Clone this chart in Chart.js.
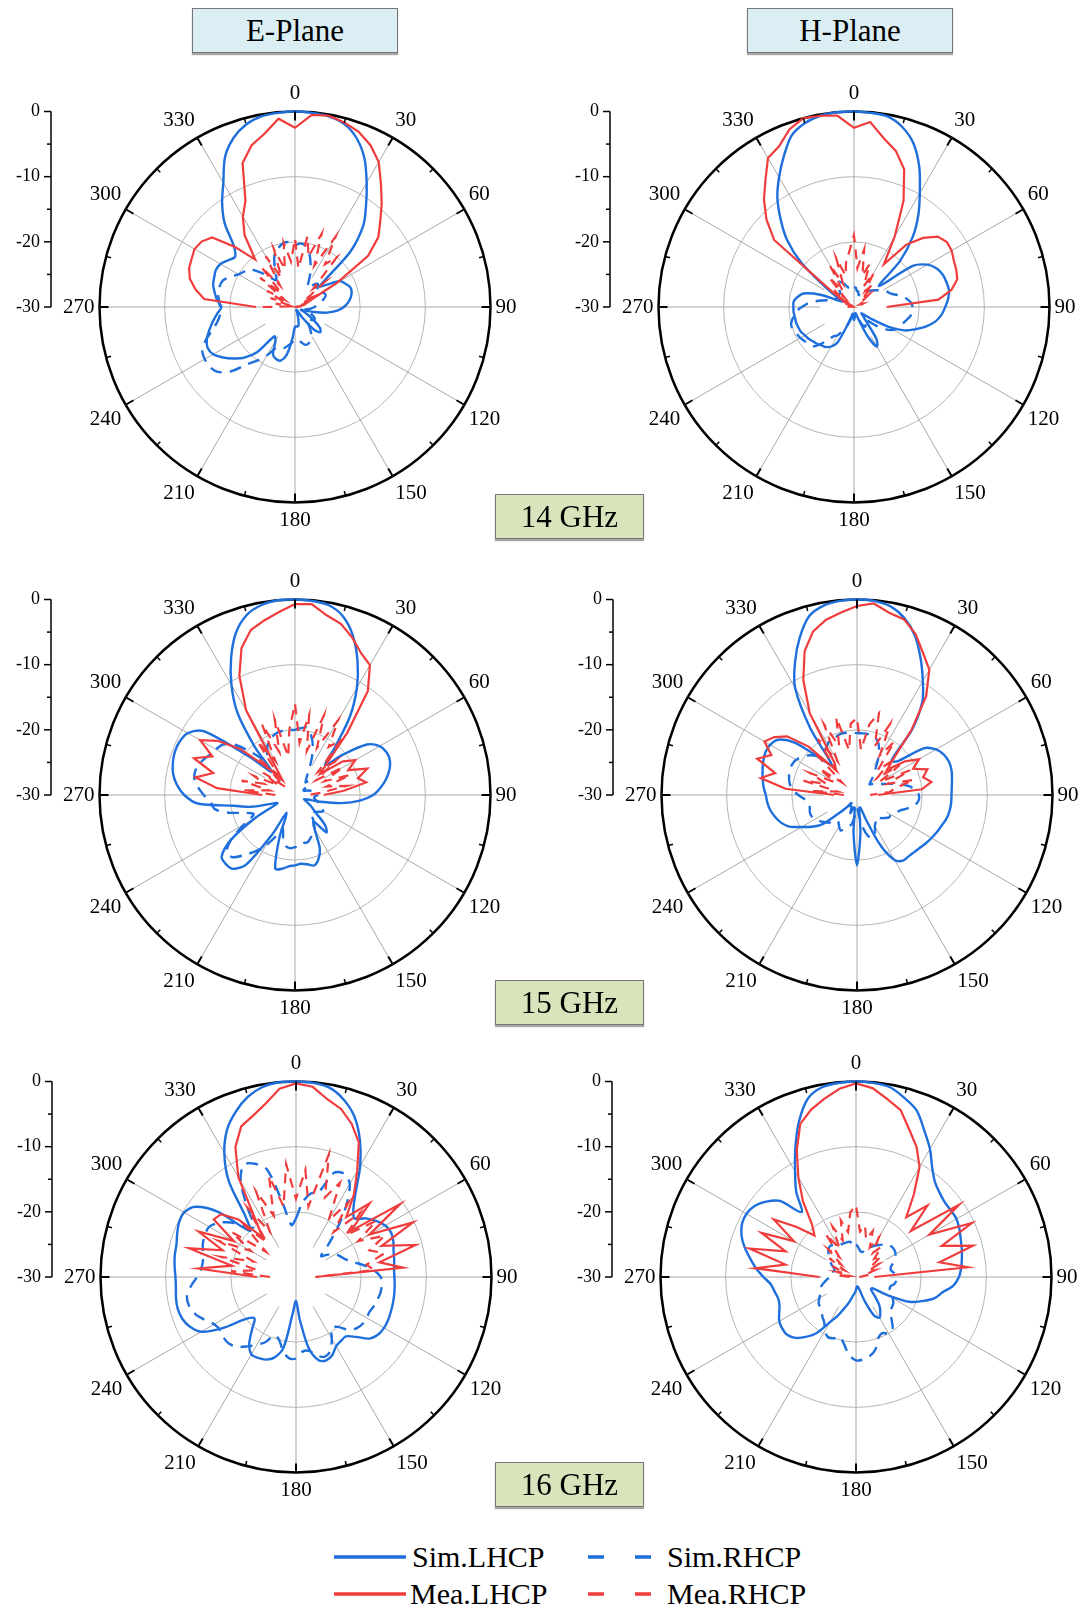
<!DOCTYPE html>
<html>
<head>
<meta charset="utf-8">
<title>Diagramas de radiação</title>
<script src="https://cdn.jsdelivr.net/npm/chart.js@4.4.0/dist/chart.umd.min.js"></script>
<style>
  html, body { margin: 0; padding: 0; background: #fff; overflow: hidden; }
  body { width: 1084px; height: 1611px; position: relative; font-family: 'Liberation Serif', 'Times New Roman', serif; color: #000; }
  canvas { position: absolute; }
  .caixa { position: absolute; height: 43px; line-height: 44px; text-align: center; font-size: 31px;
           border: 1px solid #777; box-shadow: 0 2px 1px rgba(0,0,0,.35); z-index: 2; }
  .plano { background: #dbeef3; width: 204px; top: 8px; }
  .freq { background: #d8e4bc; width: 147px; left: 495px; }
  .leg { position: absolute; font-size: 30px; line-height: 30px; white-space: nowrap; }
  .amostra { position: absolute; }
</style>
</head>
<body>

<div class="caixa plano" style="left:192px">E-Plane</div>
<div class="caixa plano" style="left:747px">H-Plane</div>
<div class="caixa freq" style="top:494px">14 GHz</div>
<div class="caixa freq" style="top:980px">15 GHz</div>
<div class="caixa freq" style="top:1462px">16 GHz</div>

<canvas id="graficoE14" width="542" height="480" style="left:0px;top:67px"></canvas>
<canvas id="graficoH14" width="542" height="480" style="left:559px;top:67px"></canvas>
<canvas id="graficoE15" width="542" height="480" style="left:0px;top:555px"></canvas>
<canvas id="graficoH15" width="542" height="480" style="left:562px;top:555px"></canvas>
<canvas id="graficoE16" width="542" height="480" style="left:1px;top:1037px"></canvas>
<canvas id="graficoH16" width="542" height="480" style="left:561px;top:1037px"></canvas>

<!-- legenda -->
<svg class="amostra" style="left:334px;top:1554px" width="72" height="6"><line x1="0" y1="3" x2="72" y2="3" stroke="#1e6fdc" stroke-width="3.5"/></svg>
<div class="leg" style="left:412px;top:1542px">Sim.LHCP</div>
<svg class="amostra" style="left:588px;top:1554px" width="68" height="6"><line x1="0" y1="3" x2="68" y2="3" stroke="#1e6fdc" stroke-width="3.5" stroke-dasharray="16 31"/></svg>
<div class="leg" style="left:667px;top:1542px">Sim.RHCP</div>
<svg class="amostra" style="left:334px;top:1591px" width="72" height="6"><line x1="0" y1="3" x2="72" y2="3" stroke="#f03c3c" stroke-width="3.5"/></svg>
<div class="leg" style="left:410px;top:1579px">Mea.LHCP</div>
<svg class="amostra" style="left:588px;top:1591px" width="68" height="6"><line x1="0" y1="3" x2="68" y2="3" stroke="#f03c3c" stroke-width="3.5" stroke-dasharray="16 31"/></svg>
<div class="leg" style="left:667px;top:1579px">Mea.RHCP</div>

<script>
const azul = '#1e6fdc';
const vermelho = '#f03c3c';

// angulos de 5 em 5 graus, 0 no topo, sentido horario
const angulos = Array.from({ length: 72 }, (_, i) => String(i * 5));
const ticksRadiais = [0, -10, -20, -30];
const ticksMenores = [-5, -15, -25];

// simulados: 0,5,...,355 graus (dB)
const simLhcpE14 = [0,-0.1,-0.3,-0.9,-2.4,-4.8,-8,-11,-13.7,-18,-25,-24,
  -22,-21.5,-21,-21,-21.3,-21.8,-22.5,-23.5,-25,-27,-28.5,-29,
  -28,-26.5,-25,-24.5,-25.5,-28,-29.5,-29.5,-29,-28,-27,-27,
  -27,-25,-22.5,-21.5,-21.5,-22,-24,-24.5,-21,-19,-17.7,-16.5,
  -15.5,-15.2,-15.6,-16.4,-17.2,-18,-18.7,-18,-17.5,-17,-16.8,-16.6,
  -16.8,-17.5,-18,-16.7,-13.2,-10.5,-8,-4.6,-2.4,-1,-0.3,-0.1];
const simRhcpE14 = [-20.5,-20.2,-20.5,-21.5,-23,-24.5,-26,-26.5,-25.5,-25,-25.5,-26,
  -25.5,-25,-25,-25.5,-26,-26.5,-27,-27.5,-28,-28.5,-28,-27,
  -26.5,-26.5,-27,-27.5,-27,-26,-25,-24.5,-24,-24,-24.5,-25,
  -25,-24.5,-24,-23.5,-23.5,-23,-21.5,-20,-18.5,-16,-14.5,-14,
  -14,-14.3,-15.5,-17,-18,-18.5,-18.5,-18.3,-18,-18,-18.2,-19,
  -20,-20.5,-21,-22.5,-24,-25,-24,-22.5,-21,-20.5,-20,-20];

const simLhcpH14 = [0,-0.1,-0.3,-1.4,-3.3,-6.3,-9.8,-12.8,-16,-20,-25,-19,
  -17,-16,-15.5,-15.3,-15.2,-15.5,-16,-16.5,-17.3,-18.5,-20,-21.5,
  -24,-27,-28.5,-28,-27,-24,-23,-25,-28,-29,-29,-28.5,
  -28,-28.5,-29,-28.5,-27,-24,-23,-22.5,-22.3,-22,-21.8,-21.5,
  -21.3,-21,-20.9,-20.8,-20.8,-20.7,-20.7,-20.7,-21.2,-22,-24.5,-28,
  -27,-24.5,-19.5,-15.5,-12.5,-9.5,-7,-4.5,-2,-0.8,-0.2,0];
const simRhcpH14 = [-27,-27,-27.5,-27.5,-28,-28,-28,-27.5,-27,-26.5,-26,-25.5,
  -24.8,-24.4,-24,-23,-22,-21.3,-21,-21,-21.3,-21.8,-22.2,-22.5,
  -23,-24,-25.5,-27,-27.5,-27,-26.5,-27,-28,-28.5,-28.5,-28.5,
  -28.5,-28.5,-28.5,-28,-27,-26,-25,-24.5,-23,-21.5,-21,-20.8,
  -20.5,-20.3,-20,-20,-20.5,-21,-22,-23,-24.5,-26,-27,-27,
  -27,-27,-27,-27,-26.5,-26,-25.5,-26,-26.5,-27,-27,-27];

const simLhcpE15 = [0,-0.1,-0.4,-1.6,-4,-7.3,-11,-15.3,-20.5,-23.5,-20.3,-16.5,
  -15,-14.5,-14.5,-15,-15.8,-16.8,-18,-20,-22.8,-26,-28,-28.5,
  -28,-27,-26,-23.5,-22.5,-25,-24,-21,-19.5,-18.8,-19.2,-19.4,
  -19.2,-19,-18.5,-18.3,-23,-27,-23,-17,-15.2,-15,-15.3,-18,
  -23,-27,-26,-23,-20.5,-15,-13,-11.8,-11,-10.6,-10.4,-10.5,
  -11,-13,-21,-25,-20.5,-14.6,-10.5,-6.8,-3.5,-1.4,-0.4,0];
const simRhcpE15 = [-20,-19.7,-19.5,-20.5,-22,-24,-26,-27,-27.5,-27,-27.5,-28,
  -28.5,-28.5,-28,-27.5,-27,-26.5,-26.5,-27,-27,-26.5,-26,-25.5,
  -25,-25.5,-26,-26.5,-26,-25,-24,-23.5,-23,-22.5,-22.5,-22,
  -22,-21.8,-22,-23,-24.5,-23,-21,-19.5,-18,-16.5,-16.3,-18,
  -21,-23,-22,-19.5,-17.5,-17,-16,-15,-14.3,-14.3,-14.8,-15.5,
  -16,-16.5,-18,-21,-23,-22.5,-21.5,-20.7,-20.3,-20,-20,-20];

const simLhcpH15 = [0,-0.1,-0.6,-1.9,-4,-6.9,-9.8,-12.5,-16.8,-22.5,-22,-17.5,
  -16,-15.3,-15,-15,-15.2,-15.4,-15.5,-15.5,-15.6,-15.8,-16.2,-16.5,
  -16.8,-17.1,-17.4,-17.6,-17.7,-17.7,-18.5,-21.5,-26,-28,-28,-24,
  -19.2,-24,-28,-28,-27,-28,-28,-28.5,-27.5,-26,-23,-21.5,
  -20.2,-18.5,-17.6,-17,-16.5,-16.2,-16,-15.6,-15.3,-15,-14.7,-14.5,
  -14.6,-15.2,-17.5,-22,-24,-17.5,-11,-7.5,-4.3,-1.6,-0.5,-0.1];
const simRhcpH15 = [-20.5,-20.5,-20.5,-20.8,-21,-22,-23.5,-25,-26,-27,-27.5,-27,
  -26.5,-26,-25,-23.5,-22,-21,-20.5,-20.5,-21,-22,-23,-23.5,
  -24,-24,-24.5,-25,-25.5,-25,-24.5,-23.5,-23,-23.5,-25,-27,
  -28,-27,-25.5,-25,-24.5,-24,-24.5,-25,-25,-24,-23.5,-23,
  -22.5,-22.3,-22.3,-22.5,-22.5,-22,-21,-20,-19.5,-19.2,-19,-19,
  -19.2,-19.8,-20.5,-21.5,-22,-21.5,-21,-20.5,-20.5,-20.3,-20.3,-20.4];

const simLhcpE16 = [0,-0.1,-0.5,-1.8,-3.8,-6.8,-10.3,-14,-16.3,-17.3,-16,-15,
  -14.2,-13.9,-14.1,-14.5,-14.7,-14.9,-14.9,-14.8,-14.7,-14.6,-14.5,-14.4,
  -14.4,-14.6,-15.3,-17,-18.1,-18,-17.7,-16.8,-16.4,-16.8,-19,-23.5,
  -26.3,-24.5,-19,-17.2,-16.5,-16.3,-16.3,-17.5,-19.5,-21,-20,-16.4,
  -13.2,-12,-11.4,-11.2,-11.3,-11.5,-11.5,-11.3,-11.1,-11,-10.6,-10.2,
  -10.2,-11.2,-14.5,-20,-18,-12,-8,-5,-3,-1.4,-0.4,0];
const simRhcpE16 = [-21,-18.5,-17,-16.5,-13,-12.5,-13.5,-16.5,-20,-23,-25,-24,
  -23,-22.5,-22,-21,-19.5,-18,-17,-16.8,-16.8,-17,-17.2,-17.5,
  -17.5,-17.5,-17.8,-18.5,-20,-20.5,-19,-17.5,-17,-17.5,-18.5,-18.5,
  -17.5,-17.5,-18.5,-20,-20.5,-19,-18,-17,-16,-15.5,-15.5,-15.8,
  -15.5,-14.5,-13.5,-13,-13,-13.8,-14.8,-15.4,-15.5,-15.2,-14.8,-14.6,
  -14.6,-15.5,-17,-19,-20,-17,-13,-11,-11.5,-13,-18.7,-22];

const simLhcpH16 = [0,-0.1,-0.4,-1.5,-2.8,-5.2,-7.3,-9.6,-11.1,-11.8,-12.2,-12.2,
  -12.2,-12.5,-12.9,-13.2,-13.5,-13.8,-14.2,-15,-16.5,-17.5,-19.2,-21,
  -24.5,-27,-27,-26,-24.5,-23.5,-22.8,-23.5,-26,-28,-28.5,-28.5,
  -28,-27.5,-27,-26,-25,-23.5,-22,-19.5,-18,-16.8,-16.2,-16.2,
  -16.4,-17,-17.5,-17.6,-17.3,-16.9,-15.8,-14.6,-13.5,-12.3,-11.3,-10.7,
  -10.6,-11,-12,-13.5,-17,-14,-11.3,-8,-4.5,-1.6,-0.4,-0.1];
const simRhcpH16 = [-25,-25.5,-26,-26,-25.5,-25,-24.5,-24,-23.5,-23,-22.8,-22.8,
  -23,-23.5,-24,-24.5,-24.5,-24,-23.8,-23.8,-24,-24.5,-24.5,-24,
  -23.5,-23,-22.8,-22.5,-21.5,-20.2,-20,-20.5,-20,-18.5,-17.7,-17.3,
  -17.2,-18,-19.5,-20.5,-20,-19.8,-20.5,-21.5,-22,-22.5,-22.8,-23,
  -23.5,-24,-24.4,-24.5,-25,-25.5,-26,-26,-26,-26.5,-26.5,-26,
  -25.5,-25,-24.5,-24,-23.8,-24,-24.5,-24.5,-24.5,-24.5,-24.5,-25];

// medidos: so de 270 ate 90 graus (270,275,...,355,0,...,90)
const meaLhcpE14 = [-24,-16,-14.5,-13.3,-12.7,-12.5,-12.2,-12.5,-13.4,-17,-20.5,-16.5,-14,-12,-6.5,-4.3,-3,-1,
  -2.5,-0.4,-0.2,-0.7,-1.4,-2.6,-4.3,-7,-9.3,-11.5,-13.3,-16.3,-22.5,-27,-28,-28.5,-29,-29.5,-30];
const meaRhcpE14 = [-25,-29,-27,-29,-26,-28,-25,-28,-23,-27,-22,-26,-21,-25,-20.5,-24,-20,-23,
  -19.5,-24,-19,-22,-18,-23,-17.5,-22,-20,-26,-24,-28,-27,-29,-28,-29.5,-29,-29.5,-30];

const meaLhcpH14 = [-30,-30,-30,-30,-30,-30,-29,-26,-14,-11,-8.5,-6.3,-3.6,-2.8,-1,0,-0.2,-0.5,
  -2.5,-1.5,-3.7,-5.2,-7.5,-12,-17.5,-22,-17.5,-15,-13.2,-12.6,-12.7,-13.1,-13.3,-13.6,-14.8,-17,-25];
const meaRhcpH14 = [-29,-29.5,-29,-29.5,-28.5,-29,-27,-28.5,-26,-28,-24,-27,-22.5,-26,-22,-25,-23,-21.5,
  -19,-24,-21,-25,-23,-26.5,-24,-27,-25.5,-28,-27,-28.5,-28,-29,-28.5,-29,-29,-29.5,-29.5];

const meaLhcpE15 = [-25,-18,-14.5,-17,-13.5,-16,-13.2,-15.5,-19,-24,-27,-25,-15,-9.8,-6,-3.8,-2.8,-1.8,
  -0.7,-0.6,-2,-2.8,-4.3,-6,-7,-10.5,-17.5,-23,-25,-21,-19.3,-21,-18.2,-20,-18.9,-22.5,-25.6];
const meaRhcpE15 = [-27,-22,-26,-21.5,-25,-23,-27,-24,-28,-22,-26,-20,-24,-18,-23,-18,-24,-20,
  -16,-22,-17.5,-23,-17,-22,-16.7,-21,-19,-25,-22,-26,-21.5,-25,-21,-25,-22,-26,-28];

const meaLhcpH15 = [-26.5,-19,-15,-17,-13.7,-15.5,-13.6,-14.5,-16,-19.5,-25,-24,-15.5,-10.5,-6.5,-4,-2.7,-1.9,
  -1,-0.5,-1.6,-2.1,-3.7,-6,-7.8,-11.5,-17,-22,-24,-21,-19,-20.5,-18.5,-19.5,-18.4,-20,-26.8];
const meaRhcpH15 = [-28,-23,-27,-21.5,-25,-22,-26,-23,-27,-21,-25,-19.5,-24,-18,-22,-17.7,-23,-19,
  -18.2,-23,-19,-17,-22,-18,-23,-20,-25,-23,-26,-22,-26,-21,-25,-21,-24,-25,-28];

const meaLhcpE16 = [-24,-15,-20,-13,-18,-13.5,-19,-14.6,-15,-17.5,-22,-19,-12.3,-8,-5.4,-4.4,-3,-1,
  -0.3,-0.7,-2.3,-3.3,-5,-7.2,-11.2,-14.5,-18,-14,-19,-10.5,-17,-10.2,-16,-11,-17,-13.5,-27];
const meaRhcpE16 = [-26,-20,-24,-18,-23,-17,-22,-18,-24,-19,-23,-17,-22,-15.5,-20,-14,-19,-12.6,
  -18,-13.5,-19,-10.5,-17,-14,-20,-16,-21,-16,-20,-15,-19,-15,-18,-16,-19,-18,-27];

const meaLhcpH16 = [-24.4,-14.5,-19,-13.1,-18.5,-14,-19,-14.6,-18,-21,-19.5,-15.8,-12.3,-8.5,-5,-3.4,-2.2,-1,
  -0.3,-0.9,-2.3,-3.5,-6,-8,-10.5,-14.5,-18,-14.5,-19,-10.7,-17,-10.4,-16,-11.4,-17,-12.8,-27.2];
const meaRhcpH16 = [-29,-27,-29,-27,-28,-26,-28,-25,-27,-24,-26,-22,-25,-21.5,-24,-21,-23,-20,
  -19,-23,-22,-24,-22.5,-25,-23,-25.5,-24,-26,-25,-27,-26,-28,-27,-28.5,-28,-29,-29.5];

Chart.defaults.font.family = "'Liberation Serif', 'Times New Roman', serif";
Chart.defaults.color = '#000';

// coloca os medidos no lugar certo da volta, o resto fica sem ponto
function medido(valores) {
  const serie = angulos.map(() => null);
  valores.forEach((v, k) => {
    const ang = (270 + k * 5) % 360;
    serie[ang / 5] = v;
  });
  return serie;
}

// eixo vertical da esquerda e tiquinhos no circulo de fora
const eixoExtra = {
  id: 'eixoExtra',
  afterDatasetsDraw(chart) {
    const r = chart.scales.r;
    const ctx = chart.ctx;
    const R = r.drawingArea;
    ctx.save();
    ctx.strokeStyle = '#000';
    angulos.forEach((a, i) => {
      const graus = Number(a);
      if (graus % 15) return;
      const tam = graus % 30 ? 5 : 9;
      const p1 = r.getPointPosition(i, R);
      const p2 = r.getPointPosition(i, R - tam);
      ctx.lineWidth = graus % 30 ? 1.5 : 2;
      ctx.beginPath();
      ctx.moveTo(p1.x, p1.y);
      ctx.lineTo(p2.x, p2.y);
      ctx.stroke();
    });
    ctx.restore();
  },
  afterDraw(chart) {
    const r = chart.scales.r;
    const ctx = chart.ctx;
    const xEixo = r.xCenter - 244;
    const yDe = v => r.yCenter - r.getDistanceFromCenterForValue(v);
    ctx.save();
    ctx.strokeStyle = '#000';
    ctx.fillStyle = '#000';
    ctx.lineWidth = 1.5;
    ctx.beginPath();
    ctx.moveTo(xEixo, yDe(0));
    ctx.lineTo(xEixo, yDe(-30));
    ctx.stroke();
    ctx.font = "18px 'Liberation Serif'";
    ctx.textAlign = 'right';
    ctx.textBaseline = 'middle';
    ticksRadiais.forEach(v => {
      ctx.beginPath();
      ctx.moveTo(xEixo, yDe(v));
      ctx.lineTo(xEixo - 7, yDe(v));
      ctx.stroke();
      ctx.fillText(String(v), xEixo - 11, yDe(v));
    });
    ticksMenores.forEach(v => {
      ctx.beginPath();
      ctx.moveTo(xEixo, yDe(v));
      ctx.lineTo(xEixo - 4, yDe(v));
      ctx.stroke();
    });
    ctx.restore();
  }
};

function criaGrafico(id, simL, simR, meaL, meaR) {
  return new Chart(document.getElementById(id), {
    type: 'radar',
    data: {
      labels: angulos,
      datasets: [
        { label: 'Mea.LHCP', data: medido(meaL), borderColor: vermelho, borderWidth: 2.2, tension: 0, spanGaps: false },
        { label: 'Mea.RHCP', data: medido(meaR), borderColor: vermelho, borderWidth: 2.2, tension: 0, borderDash: [10, 7], spanGaps: false },
        { label: 'Sim.LHCP', data: simL, borderColor: azul, borderWidth: 2.4, tension: 0.3 },
        { label: 'Sim.RHCP', data: simR, borderColor: azul, borderWidth: 2.4, tension: 0.3, borderDash: [12, 8] }
      ]
    },
    options: {
      responsive: false,
      animation: false,
      layout: { padding: { left: 58, right: 20, top: 8, bottom: 8 } },
      elements: { point: { radius: 0, hoverRadius: 0 }, line: { fill: false } },
      plugins: { legend: { display: false }, tooltip: { enabled: false } },
      scales: {
        r: {
          min: -30,
          max: 0,
          startAngle: 0,
          ticks: { display: false, stepSize: 10 },
          grid: {
            circular: true,
            color: c => c.tick && c.tick.value === 0 ? '#000' : '#b5b5b5',
            lineWidth: c => c.tick && c.tick.value === 0 ? 2.5 : 1
          },
          angleLines: {
            color: '#a8a8a8',
            lineWidth: c => c.index % 6 === 0 ? 1 : 0,
            // as linhas obliquas nao chegam no centro
            borderDash: c => c.index % 36 === 0 ? [] : [0, 34, 400]
          },
          pointLabels: {
            padding: 5,
            color: '#000',
            font: { size: 21, family: "'Liberation Serif'" },
            callback: (label, index) => index % 6 === 0 ? label : ''
          }
        }
      }
    },
    plugins: [eixoExtra]
  });
}

criaGrafico('graficoE14', simLhcpE14, simRhcpE14, meaLhcpE14, meaRhcpE14);
criaGrafico('graficoH14', simLhcpH14, simRhcpH14, meaLhcpH14, meaRhcpH14);
criaGrafico('graficoE15', simLhcpE15, simRhcpE15, meaLhcpE15, meaRhcpE15);
criaGrafico('graficoH15', simLhcpH15, simRhcpH15, meaLhcpH15, meaRhcpH15);
criaGrafico('graficoE16', simLhcpE16, simRhcpE16, meaLhcpE16, meaRhcpE16);
criaGrafico('graficoH16', simLhcpH16, simRhcpH16, meaLhcpH16, meaRhcpH16);
</script>
</body>
</html>
